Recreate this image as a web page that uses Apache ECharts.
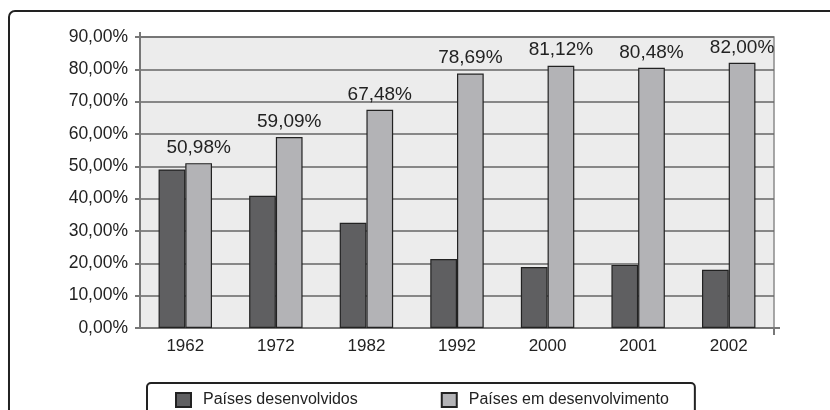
<!DOCTYPE html>
<html>
<head>
<meta charset="utf-8">
<script src="https://cdn.jsdelivr.net/npm/echarts@6/dist/echarts.min.js"></script>
<style>
  html, body { margin: 0; padding: 0; background: #fff; }
  #chart { width: 830px; height: 410px; }
</style>
</head>
<body>
<div id="chart"></div>
<script>
// anos
var anos = ['1962', '1972', '1982', '1992', '2000', '2001', '2002'];
// Países desenvolvidos
var desenvolvidos = [49.02, 40.91, 32.52, 21.31, 18.88, 19.52, 18.00];
// Países em desenvolvimento (rótulos do gráfico)
var emDesenvolvimento = [50.98, 59.09, 67.48, 78.69, 81.12, 80.48, 82.00];
// eixo Y
var yMax = 90;
var yPasso = 10;

function pct(v) {
  return v.toFixed(2).replace('.', ',') + '%';
}

var fonte = "'Liberation Sans', Arial, sans-serif";
var chart = echarts.init(document.getElementById('chart'));

var option = {
  animation: false,
  backgroundColor: '#fff',
  textStyle: { fontFamily: fonte, color: '#222' },
  grid: {
    left: 140,
    right: 56,
    top: 37,
    bottom: 82,
    show: true,
    backgroundColor: '#ececec',
    borderColor: '#8a8a8a',
    borderWidth: 1.5
  },
  legend: {
    left: 147,
    top: 383,
    padding: [9, 26, 20, 28],
    itemWidth: 15,
    itemHeight: 14,
    itemGap: 83,
    borderColor: '#222',
    borderWidth: 2,
    borderRadius: 4,
    icon: 'rect',
    textStyle: { fontSize: 16, color: '#222', fontFamily: fonte, padding: [0, 0, 0, 7] },
    data: ['Países desenvolvidos', 'Países em desenvolvimento']
  },
  xAxis: {
    type: 'category',
    data: anos,
    axisLine: { show: true, lineStyle: { color: '#777', width: 2 } },
    axisTick: { show: false },
    axisLabel: { fontSize: 17, color: '#222', margin: 10, fontFamily: fonte }
  },
  yAxis: {
    type: 'value',
    min: 0,
    max: yMax,
    interval: yPasso,
    axisLine: { show: true, lineStyle: { color: '#777', width: 2 } },
    axisTick: { show: true, length: 5, lineStyle: { color: '#777', width: 2 } },
    splitLine: { lineStyle: { color: '#666', width: 1.5 } },
    axisLabel: {
      fontSize: 17.5,
      color: '#222',
      margin: 12,
      fontFamily: fonte,
      formatter: function (v) { return pct(v); }
    }
  },
  series: [
    {
      name: 'Países desenvolvidos',
      type: 'bar',
      data: desenvolvidos,
      barGap: '0%',
      barCategoryGap: '41%',
      itemStyle: { color: '#5f5f61', borderColor: '#222', borderWidth: 1.2 }
    },
    {
      name: 'Países em desenvolvimento',
      type: 'bar',
      data: emDesenvolvimento,
      barGap: '0%',
      barCategoryGap: '41%',
      itemStyle: { color: '#b3b3b6', borderColor: '#222', borderWidth: 1.2 },
      label: {
        show: true,
        position: 'top',
        distance: 6,
        fontSize: 19,
        color: '#222',
        fontFamily: fonte,
        formatter: function (p) { return pct(p.value); }
      }
    }
  ],
  graphic: [
    // moldura externa
    {
      type: 'rect',
      silent: true,
      shape: { x: 9, y: 11, width: 860, height: 440, r: 6 },
      style: { fill: 'none', stroke: '#222', lineWidth: 2 }
    },
    // prolongamento do eixo Y acima da área
    {
      type: 'line',
      silent: true,
      shape: { x1: 140, y1: 32, x2: 140, y2: 37 },
      style: { stroke: '#777', lineWidth: 2 }
    },
    // prolongamento do eixo X e marca final
    {
      type: 'line',
      silent: true,
      shape: { x1: 774, y1: 328, x2: 780, y2: 328 },
      style: { stroke: '#777', lineWidth: 2 }
    },
    {
      type: 'line',
      silent: true,
      shape: { x1: 774, y1: 328, x2: 774, y2: 335 },
      style: { stroke: '#777', lineWidth: 2 }
    }
  ]
};

chart.setOption(option);
</script>
</body>
</html>
